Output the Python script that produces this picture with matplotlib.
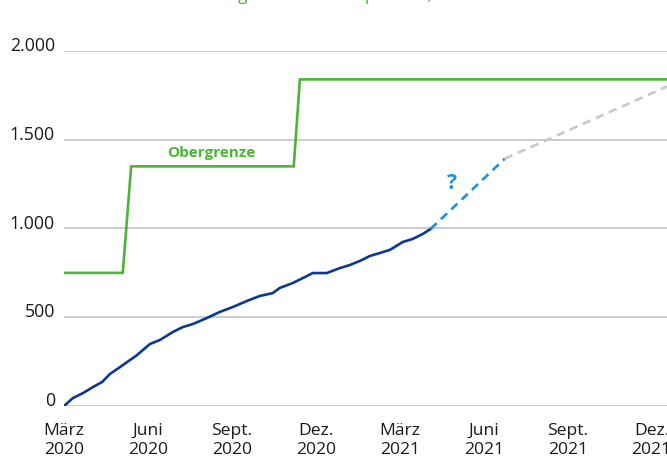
import matplotlib.pyplot as plt

plt.rcParams['font.family'] = ['Open Sans', 'DejaVu Sans']

# x in months since March 2020
kauf_monate = [0, 0.32, 0.68, 1.04, 1.36, 1.64, 2.11, 2.61, 3.07, 3.43, 3.89, 4.25,
               4.61, 5.11, 5.57, 6.04, 6.54, 7.0, 7.46, 7.71, 8.18, 8.68, 8.89, 9.39,
               9.86, 10.21, 10.57, 10.93, 11.29, 11.64, 12.11, 12.46, 12.82, 13.1]
kaeufe = [0, 45, 73, 107, 135, 180, 231, 287, 349, 372, 417, 445,
          462, 496, 530, 558, 592, 620, 636, 665, 693, 732, 749, 749,
          777, 794, 817, 845, 862, 879, 924, 941, 969, 997]

prognose_monate = [13.1, 15.75]
prognose = [997, 1393]
trend_monate = [15.75, 21.55]
trend = [1393, 1800]

grenze_monate = [0, 2.1, 2.4, 8.21, 8.43, 21.55]
grenze = [750, 750, 1350, 1350, 1840, 1840]

tick_monate = [0, 3, 6, 9, 12, 15, 18, 21]
tick_labels = ['März\n2020', 'Juni\n2020', 'Sept.\n2020', 'Dez.\n2020',
               'März\n2021', 'Juni\n2021', 'Sept.\n2021', 'Dez.\n2021']
y_ticks = [0, 500, 1000, 1500, 2000]
y_labels = ['0', '500', '1.000', '1.500', '2.000']

gruen = '#4cb535'
blau = '#0b3a8d'
hellblau = '#1e8fe1'
grau = '#c8c8c8'

fig = plt.figure(figsize=(6.67, 4.61), dpi=100)
ax = fig.add_axes([64 / 667, 55 / 461, 1 - 64 / 667, 355 / 461])

ax.plot(grenze_monate, grenze, color=gruen, lw=1.9, solid_joinstyle='miter')
ax.plot(kauf_monate, kaeufe, color=blau, lw=1.9)
ax.plot(prognose_monate, prognose, color=hellblau, lw=1.9, dashes=(3.2, 2.2))
ax.plot(trend_monate, trend, color=grau, lw=1.9, dashes=(3.2, 2.2))

ax.text(5.25, 1425, 'Obergrenze', color=gruen, fontsize=11, fontweight='bold',
        ha='center', va='center')
ax.text(13.87, 1255, '?', color=hellblau, fontsize=15, fontweight='bold',
        ha='center', va='center')

ax.set_xlim(0, 21.55)
ax.set_ylim(0, 2000)
ax.set_yticks(y_ticks)
ax.set_yticklabels(y_labels)
ax.set_xticks(tick_monate)
ax.set_xticklabels(tick_labels)
ax.grid(axis='y', color='#c4c4c4', lw=1.2)
ax.set_axisbelow(True)
for s in ax.spines.values():
    s.set_visible(False)
ax.tick_params(axis='x', length=0, pad=12, labelsize=12.6, colors='#1a1a1a')
ax.tick_params(axis='y', length=0, pad=6.5, labelsize=12.8, colors='#1a1a1a')
for lbl in ax.get_xticklabels():
    lbl.set_linespacing(1.3)
for lbl in ax.get_yticklabels():
    lbl.set_va('baseline')

# title, mostly cut off at the top edge
titel = 'Ankäufe und Obergrenze des Hilfspaketes, Mrd Euro'
r = fig.canvas.get_renderer()
tmp = fig.text(0, 0, titel[:titel.index('g')], fontsize=12.3)
w = tmp.get_window_extent(r).width
tmp.remove()
fig.text((238 - w) / 667, 1.0, titel, color=gruen, fontsize=12.3, va='baseline')

fig.savefig('out.png', dpi=100)
